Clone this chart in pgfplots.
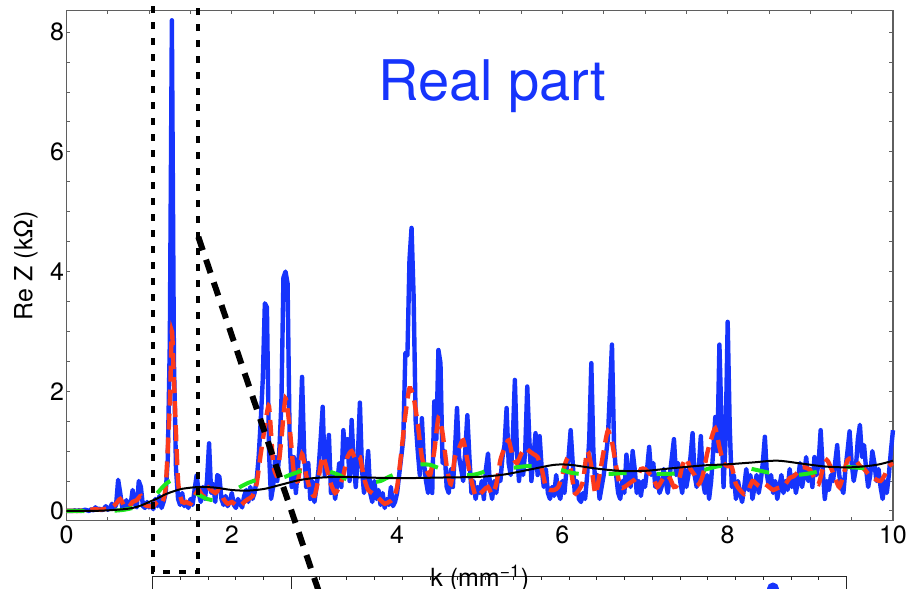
\documentclass[border=0pt]{standalone}
\usepackage{fontspec}
\setmainfont{TeX Gyre Heros}
\usepackage{pgfplots}
\pgfplotsset{compat=1.18}
\usetikzlibrary{calc}
\definecolor{cblue}{RGB}{22,52,252}
\definecolor{cred}{RGB}{252,58,28}
\definecolor{cgreen}{RGB}{30,232,30}
\definecolor{cframe}{RGB}{95,95,95}
\begin{document}
\begin{tikzpicture}
\begin{axis}[
  scale only axis, width=413.25pt, height=255.1pt,
  xmin=0, xmax=10, ymin=-0.162, ymax=8.364,
  clip=false,
  axis line style={cframe, line width=0.6pt},
  every tick/.style={cframe, line width=0.5pt},
  major tick length=2pt, minor tick length=1.8pt,
  tick align=inside,
  xtick={0,2,4,6,8,10}, ytick={0,2,4,6,8},
  minor x tick num=3, minor y tick num=3,
  /pgf/number format/assume math mode=true,
  tick label style={font=\fontsize{12.5}{14}\selectfont},
  xticklabel style={inner sep=1pt, yshift=-1.5pt},
  yticklabel style={inner sep=1pt},
  xlabel={k (mm\textsuperscript{−1})},
  ylabel={Re Z (kΩ)},
  label style={font=\fontsize{12.5}{14}\selectfont},
  xlabel style={at={(axis description cs:0.5,-0.086)}, anchor=north, inner sep=0pt},
  ylabel style={at={(axis description cs:-0.0345,0.5)}, anchor=south, inner sep=0pt},
]
\addplot[cblue, line width=2.2pt, line join=round] table[row sep=\\] {
x y\\
0.000 0.00\\ 0.025 0.00\\ 0.050 0.00\\ 0.075 0.00\\ 0.100 0.01\\ 0.125 0.00\\ 0.150 0.01\\ 0.175 0.00\\
0.200 0.01\\ 0.225 0.02\\ 0.250 0.01\\ 0.275 0.00\\ 0.300 0.03\\ 0.325 0.01\\ 0.350 0.06\\ 0.375 0.02\\
0.400 0.04\\ 0.425 0.01\\ 0.450 0.03\\ 0.475 0.08\\ 0.500 0.02\\ 0.525 0.05\\ 0.550 0.12\\ 0.575 0.04\\
0.600 0.10\\ 0.625 0.52\\ 0.650 0.30\\ 0.675 0.05\\ 0.700 0.08\\ 0.725 0.18\\ 0.750 0.04\\ 0.775 0.10\\
0.800 0.35\\ 0.825 0.12\\ 0.850 0.06\\ 0.875 0.50\\ 0.900 0.40\\ 0.925 0.08\\ 0.950 0.05\\ 0.975 0.15\\
1.000 0.06\\ 1.025 0.10\\ 1.050 0.03\\ 1.075 0.20\\ 1.100 0.08\\ 1.125 0.25\\ 1.150 0.05\\ 1.175 0.15\\
1.200 0.30\\ 1.225 0.85\\ 1.250 2.80\\ 1.275 8.20\\ 1.300 2.50\\ 1.325 0.70\\ 1.350 0.20\\ 1.375 0.10\\
1.400 0.30\\ 1.425 0.08\\ 1.450 0.15\\ 1.475 0.05\\ 1.500 0.20\\ 1.525 0.10\\ 1.550 0.35\\ 1.575 0.60\\
1.600 0.30\\ 1.625 0.15\\ 1.650 0.40\\ 1.675 0.20\\ 1.700 0.50\\ 1.725 1.13\\ 1.750 0.30\\ 1.775 0.45\\
1.800 0.15\\ 1.825 0.60\\ 1.850 0.57\\ 1.875 0.20\\ 1.900 0.10\\ 1.925 0.25\\ 1.950 0.08\\ 1.975 0.15\\
2.000 0.30\\ 2.025 0.10\\ 2.050 0.05\\ 2.075 0.20\\ 2.100 0.12\\ 2.125 0.06\\ 2.150 0.25\\ 2.175 0.35\\
2.200 0.15\\ 2.225 0.40\\ 2.250 0.20\\ 2.275 0.30\\ 2.300 0.50\\ 2.325 0.90\\ 2.350 1.50\\ 2.375 2.20\\
2.400 3.47\\ 2.425 3.40\\ 2.450 1.00\\ 2.475 0.20\\ 2.500 0.40\\ 2.525 0.90\\ 2.550 0.50\\ 2.575 1.00\\
2.600 1.80\\ 2.625 3.90\\ 2.650 4.00\\ 2.675 3.80\\ 2.700 1.20\\ 2.725 0.40\\ 2.750 0.90\\ 2.775 0.30\\
2.800 0.70\\ 2.825 1.20\\ 2.850 2.24\\ 2.875 1.00\\ 2.900 0.40\\ 2.925 0.80\\ 2.950 0.20\\ 2.975 0.50\\
3.000 0.15\\ 3.025 0.40\\ 3.050 0.70\\ 3.075 1.20\\ 3.100 1.74\\ 3.125 0.60\\ 3.150 0.90\\ 3.175 1.27\\
3.200 0.30\\ 3.225 0.60\\ 3.250 0.20\\ 3.275 0.45\\ 3.300 0.80\\ 3.325 0.40\\ 3.350 1.35\\ 3.375 0.90\\
3.400 1.20\\ 3.425 0.50\\ 3.450 1.52\\ 3.475 0.80\\ 3.500 0.40\\ 3.525 0.90\\ 3.550 1.81\\ 3.575 0.70\\
3.600 0.30\\ 3.625 0.60\\ 3.650 1.00\\ 3.675 0.30\\ 3.700 0.15\\ 3.725 0.50\\ 3.750 0.20\\ 3.775 0.35\\
3.800 0.10\\ 3.825 0.30\\ 3.850 0.05\\ 3.875 0.20\\ 3.900 0.10\\ 3.925 0.40\\ 3.950 0.08\\ 3.975 0.15\\
4.000 0.30\\ 4.025 0.60\\ 4.050 0.90\\ 4.075 1.20\\ 4.100 2.64\\ 4.125 2.60\\ 4.150 4.20\\ 4.175 4.73\\
4.200 3.59\\ 4.225 1.50\\ 4.250 1.00\\ 4.275 0.60\\ 4.300 1.55\\ 4.325 0.80\\ 4.350 0.50\\ 4.375 0.30\\
4.400 0.60\\ 4.425 0.30\\ 4.450 1.83\\ 4.475 1.20\\ 4.500 2.69\\ 4.525 2.47\\ 4.550 0.80\\ 4.575 1.00\\
4.600 0.40\\ 4.625 0.30\\ 4.650 0.70\\ 4.675 0.40\\ 4.700 1.00\\ 4.725 1.72\\ 4.750 0.90\\ 4.775 0.70\\
4.800 0.50\\ 4.825 1.00\\ 4.850 1.60\\ 4.875 0.90\\ 4.900 0.30\\ 4.925 0.50\\ 4.950 0.20\\ 4.975 0.40\\
5.000 0.30\\ 5.025 0.50\\ 5.050 0.20\\ 5.075 0.70\\ 5.100 0.96\\ 5.125 0.40\\ 5.150 0.20\\ 5.175 0.50\\
5.200 0.30\\ 5.225 0.60\\ 5.250 0.50\\ 5.275 0.90\\ 5.300 1.10\\ 5.325 1.72\\ 5.350 0.80\\ 5.375 0.60\\
5.400 1.20\\ 5.425 2.19\\ 5.450 1.00\\ 5.475 0.50\\ 5.500 0.90\\ 5.525 0.60\\ 5.550 1.00\\ 5.575 2.08\\
5.600 1.20\\ 5.625 0.50\\ 5.650 0.90\\ 5.675 1.30\\ 5.700 0.60\\ 5.725 1.25\\ 5.750 0.70\\ 5.775 0.40\\
5.800 0.70\\ 5.825 0.30\\ 5.850 0.20\\ 5.875 0.40\\ 5.900 0.25\\ 5.925 0.60\\ 5.950 0.30\\ 5.975 0.20\\
6.000 0.50\\ 6.025 0.30\\ 6.050 0.70\\ 6.075 0.90\\ 6.100 1.35\\ 6.125 0.80\\ 6.150 0.30\\ 6.175 0.50\\
6.200 0.20\\ 6.225 0.15\\ 6.250 0.30\\ 6.275 0.20\\ 6.300 0.60\\ 6.325 1.20\\ 6.350 2.47\\ 6.375 1.00\\
6.400 0.40\\ 6.425 0.60\\ 6.450 0.20\\ 6.475 0.40\\ 6.500 0.60\\ 6.525 0.90\\ 6.550 1.20\\ 6.575 2.00\\
6.600 2.78\\ 6.625 1.10\\ 6.650 0.60\\ 6.675 0.30\\ 6.700 0.20\\ 6.725 0.50\\ 6.750 0.30\\ 6.775 0.94\\
6.800 0.60\\ 6.825 0.40\\ 6.850 1.00\\ 6.875 0.70\\ 6.900 0.30\\ 6.925 0.50\\ 6.950 0.25\\ 6.975 0.50\\
7.000 0.40\\ 7.025 0.70\\ 7.050 1.07\\ 7.075 0.60\\ 7.100 0.80\\ 7.125 0.40\\ 7.150 0.60\\ 7.175 0.30\\
7.200 0.40\\ 7.225 0.70\\ 7.250 0.50\\ 7.275 0.30\\ 7.300 0.60\\ 7.325 0.90\\ 7.350 1.20\\ 7.375 0.60\\
7.400 0.80\\ 7.425 0.50\\ 7.450 0.30\\ 7.475 0.70\\ 7.500 0.40\\ 7.525 0.60\\ 7.550 0.90\\ 7.575 1.30\\
7.600 0.60\\ 7.625 0.40\\ 7.650 0.70\\ 7.675 1.25\\ 7.700 0.50\\ 7.725 0.30\\ 7.750 0.60\\ 7.775 0.20\\
7.800 0.50\\ 7.825 1.00\\ 7.850 1.57\\ 7.875 1.00\\ 7.900 2.78\\ 7.925 1.50\\ 7.950 0.40\\ 7.975 1.20\\
8.000 3.16\\ 8.025 1.40\\ 8.050 0.40\\ 8.075 0.60\\ 8.100 0.20\\ 8.125 0.50\\ 8.150 0.30\\ 8.175 0.15\\
8.200 0.40\\ 8.225 0.70\\ 8.250 0.35\\ 8.275 0.60\\ 8.300 0.20\\ 8.325 0.40\\ 8.350 0.60\\ 8.375 0.30\\
8.400 0.50\\ 8.425 0.80\\ 8.450 1.24\\ 8.475 0.60\\ 8.500 0.40\\ 8.525 0.60\\ 8.550 0.30\\ 8.575 0.50\\
8.600 0.20\\ 8.625 0.40\\ 8.650 0.60\\ 8.675 0.30\\ 8.700 0.50\\ 8.725 0.35\\ 8.750 0.70\\ 8.775 0.40\\
8.800 0.60\\ 8.825 0.30\\ 8.850 0.50\\ 8.875 0.80\\ 8.900 0.40\\ 8.925 0.60\\ 8.950 0.90\\ 8.975 0.50\\
9.000 0.70\\ 9.025 0.40\\ 9.050 0.90\\ 9.075 0.60\\ 9.100 0.80\\ 9.125 1.35\\ 9.150 0.70\\ 9.175 0.20\\
9.200 0.50\\ 9.225 0.35\\ 9.250 0.60\\ 9.275 0.50\\ 9.300 0.80\\ 9.325 1.10\\ 9.350 0.60\\ 9.375 0.40\\
9.400 0.30\\ 9.425 0.70\\ 9.450 1.00\\ 9.475 1.33\\ 9.500 0.80\\ 9.525 0.50\\ 9.550 0.70\\ 9.575 1.20\\
9.600 1.44\\ 9.625 0.90\\ 9.650 1.10\\ 9.675 0.70\\ 9.700 0.40\\ 9.725 0.60\\ 9.750 1.00\\ 9.775 0.80\\
9.800 0.50\\ 9.825 0.70\\ 9.850 0.40\\ 9.875 0.20\\ 9.900 0.50\\ 9.925 0.30\\ 9.950 0.60\\ 9.975 1.00\\
10.000 1.35\\
};
\addplot[cred, line width=2.2pt, dash pattern=on 8pt off 4pt, smooth, tension=0.4] table[row sep=\\] {
x y\\
0.00 0\\ 0.05 0\\ 0.10 0\\ 0.15 0\\ 0.20 0.01\\ 0.25 0.01\\ 0.30 0.02\\ 0.35 0.03\\ 0.40 0.02\\ 0.45 0.03\\
0.50 0.04\\ 0.55 0.06\\ 0.60 0.12\\ 0.65 0.20\\ 0.70 0.08\\ 0.75 0.06\\ 0.80 0.15\\ 0.85 0.18\\ 0.90 0.25\\ 0.95 0.10\\
1.00 0.08\\ 1.05 0.08\\ 1.10 0.15\\ 1.15 0.12\\ 1.20 0.40\\ 1.25 1.80\\ 1.275 3.00\\ 1.30 2.20\\ 1.35 0.50\\ 1.40 0.15\\ 1.45 0.15\\
1.50 0.12\\ 1.55 0.25\\ 1.60 0.35\\ 1.65 0.25\\ 1.70 0.40\\ 1.75 0.35\\ 1.80 0.30\\ 1.85 0.35\\ 1.90 0.20\\ 1.95 0.12\\
2.00 0.15\\ 2.05 0.10\\ 2.10 0.08\\ 2.15 0.15\\ 2.20 0.20\\ 2.25 0.25\\ 2.30 0.45\\ 2.35 0.95\\ 2.40 1.40\\ 2.45 1.75\\
2.50 0.80\\ 2.55 0.60\\ 2.60 1.20\\ 2.65 1.88\\ 2.70 1.40\\ 2.75 0.65\\ 2.80 0.50\\ 2.85 0.95\\ 2.90 0.60\\ 2.95 0.35\\
3.00 0.25\\ 3.05 0.55\\ 3.10 0.92\\ 3.15 0.70\\ 3.20 0.45\\ 3.25 0.30\\ 3.30 0.40\\ 3.35 0.60\\ 3.40 0.90\\ 3.45 1.00\\
3.50 0.85\\ 3.55 0.90\\ 3.60 0.55\\ 3.65 0.35\\ 3.70 0.30\\ 3.75 0.25\\ 3.80 0.18\\ 3.85 0.12\\ 3.90 0.15\\ 3.95 0.20\\
4.00 0.40\\ 4.05 0.96\\ 4.10 1.60\\ 4.15 2.05\\ 4.20 1.90\\ 4.25 1.45\\ 4.30 0.90\\ 4.35 0.70\\ 4.40 0.60\\ 4.45 1.00\\
4.50 1.55\\ 4.55 1.30\\ 4.60 0.75\\ 4.65 0.45\\ 4.70 0.90\\ 4.75 1.05\\ 4.80 1.18\\ 4.85 0.85\\ 4.90 0.50\\ 4.95 0.25\\
5.00 0.28\\ 5.05 0.35\\ 5.10 0.40\\ 5.15 0.28\\ 5.20 0.45\\ 5.25 0.85\\ 5.30 1.05\\ 5.35 1.18\\ 5.40 0.90\\ 5.45 0.80\\
5.50 0.95\\ 5.55 1.05\\ 5.60 1.00\\ 5.65 0.95\\ 5.70 0.90\\ 5.75 0.70\\ 5.80 0.40\\ 5.85 0.35\\ 5.90 0.35\\ 5.95 0.40\\
6.00 0.60\\ 6.05 0.85\\ 6.10 0.70\\ 6.15 0.30\\ 6.20 0.35\\ 6.25 0.50\\ 6.30 1.00\\ 6.35 0.75\\ 6.40 0.28\\ 6.45 0.60\\
6.50 1.00\\ 6.55 1.34\\ 6.60 1.15\\ 6.65 0.75\\ 6.70 0.40\\ 6.75 0.40\\ 6.80 0.45\\ 6.85 0.50\\ 6.90 0.55\\ 6.95 0.70\\
7.00 0.70\\ 7.05 0.63\\ 7.10 0.55\\ 7.15 0.40\\ 7.20 0.50\\ 7.25 0.60\\ 7.30 0.55\\ 7.35 0.40\\ 7.40 0.45\\ 7.45 0.75\\
7.50 0.88\\ 7.55 0.70\\ 7.60 0.60\\ 7.65 0.45\\ 7.70 0.60\\ 7.75 0.95\\ 7.80 1.20\\ 7.85 1.38\\ 7.90 1.07\\ 7.95 0.80\\
8.00 0.75\\ 8.05 0.73\\ 8.10 0.45\\ 8.15 0.35\\ 8.20 0.28\\ 8.25 0.35\\ 8.30 0.50\\ 8.35 0.45\\ 8.40 0.40\\ 8.45 0.45\\
8.50 0.40\\ 8.55 0.35\\ 8.60 0.38\\ 8.65 0.40\\ 8.70 0.45\\ 8.75 0.55\\ 8.80 0.58\\ 8.85 0.65\\ 8.90 0.73\\ 8.95 0.72\\
9.00 0.68\\ 9.05 0.55\\ 9.10 0.45\\ 9.15 0.70\\ 9.20 0.85\\ 9.25 0.72\\ 9.30 0.55\\ 9.35 0.40\\ 9.40 0.60\\ 9.45 0.85\\
9.50 0.88\\ 9.55 0.85\\ 9.60 0.75\\ 9.65 0.70\\ 9.70 0.62\\ 9.75 0.57\\ 9.80 0.52\\ 9.85 0.50\\ 9.90 0.60\\ 9.95 0.75\\
10.00 0.80\\
};
\addplot[cgreen, line width=2pt, dash pattern=on 9pt off 15pt, smooth] table[row sep=\\] {
x y\\
0.0 0\\ 0.5 0\\ 0.7 0.02\\ 0.8 0.05\\ 0.9 0.08\\ 1.0 0.15\\ 1.1 0.30\\ 1.2 0.45\\ 1.3 0.52\\ 1.4 0.45\\
1.5 0.35\\ 1.6 0.27\\ 1.7 0.20\\ 1.8 0.18\\ 1.9 0.22\\ 2.0 0.32\\ 2.1 0.40\\ 2.2 0.47\\ 2.3 0.52\\ 2.4 0.58\\
2.5 0.55\\ 2.6 0.55\\ 2.7 0.60\\ 2.8 0.65\\ 2.9 0.70\\ 3.0 0.72\\ 3.1 0.70\\ 3.2 0.65\\ 3.3 0.60\\ 3.4 0.52\\
3.5 0.50\\ 3.6 0.48\\ 3.7 0.48\\ 3.8 0.50\\ 3.9 0.57\\ 4.0 0.63\\ 4.1 0.70\\ 4.2 0.76\\ 4.3 0.78\\ 4.4 0.77\\
4.5 0.72\\ 4.6 0.68\\ 4.7 0.64\\ 4.8 0.60\\ 4.9 0.60\\ 5.0 0.63\\ 5.1 0.68\\ 5.2 0.72\\ 5.3 0.72\\ 5.4 0.72\\
5.5 0.74\\ 5.6 0.75\\ 5.7 0.75\\ 5.8 0.75\\ 5.9 0.72\\ 6.0 0.68\\ 6.1 0.64\\ 6.2 0.62\\ 6.3 0.62\\ 6.4 0.62\\
6.5 0.62\\ 6.6 0.62\\ 6.7 0.63\\ 6.8 0.63\\ 6.9 0.63\\ 7.0 0.63\\ 7.1 0.62\\ 7.2 0.62\\ 7.3 0.62\\ 7.4 0.63\\
7.5 0.65\\ 7.6 0.66\\ 7.7 0.68\\ 7.8 0.72\\ 7.9 0.75\\ 8.0 0.76\\ 8.1 0.75\\ 8.2 0.73\\ 8.3 0.70\\ 8.4 0.67\\
8.5 0.64\\ 8.6 0.63\\ 8.7 0.61\\ 8.8 0.60\\ 8.9 0.61\\ 9.0 0.63\\ 9.1 0.66\\ 9.2 0.69\\ 9.3 0.72\\ 9.4 0.73\\
9.5 0.73\\ 9.6 0.72\\ 9.7 0.71\\ 9.8 0.71\\ 9.9 0.70\\ 10.0 0.70\\
};
\addplot[black, line width=1pt, smooth] table[row sep=\\] {
x y\\
0.0 0\\ 0.3 0\\ 0.5 0.01\\ 0.7 0.03\\ 0.8 0.05\\ 0.9 0.09\\ 1.0 0.15\\ 1.1 0.21\\ 1.2 0.28\\ 1.3 0.33\\ 1.4 0.37\\
1.6 0.40\\ 1.8 0.39\\ 2.0 0.35\\ 2.2 0.34\\ 2.4 0.37\\ 2.6 0.44\\ 2.8 0.51\\ 3.0 0.55\\ 3.3 0.57\\ 3.6 0.56\\
3.9 0.55\\ 4.2 0.55\\ 4.6 0.56\\ 5.0 0.57\\ 5.3 0.61\\ 5.6 0.69\\ 5.9 0.77\\ 6.1 0.77\\ 6.4 0.71\\ 6.7 0.67\\
7.0 0.67\\ 7.3 0.71\\ 7.7 0.76\\ 8.0 0.78\\ 8.3 0.81\\ 8.6 0.84\\ 8.9 0.79\\ 9.2 0.74\\ 9.5 0.73\\ 9.8 0.77\\ 10.0 0.84\\
};
\addplot[only marks, mark=*, mark size=2.75pt, color=cblue] coordinates {(8.548,-1.295)};
\node[anchor=base, text=cblue, font=\fontsize{28}{32}\selectfont] at (axis cs:5.154,6.857) {Real part};
\draw[black, line width=2pt, dash pattern=on 3.5pt off 4.5pt] (axis cs:1.043,8.7) -- (axis cs:1.043,-1.019) -- (axis cs:1.595,-1.019) -- (axis cs:1.595,8.7);
\draw[black, line width=3pt, dash pattern=on 7pt off 5pt] (axis cs:1.595,4.579) -- (axis cs:3.067,-1.404);
\draw[black!85, line width=0.6pt] (axis cs:1.0405,-1.40) -- (axis cs:1.0405,-1.098) -- (axis cs:9.440,-1.098) -- (axis cs:9.440,-1.40);
\coordinate (insL) at (axis cs:1.0405,-1.098);
\coordinate (insR) at (axis cs:9.440,-1.098);
\coordinate (bbSW) at (axis cs:-0.8046,-1.3035);
\coordinate (bbNE) at (axis cs:10.182,8.539);
\end{axis}
\foreach \i in {1,...,24} {
  \draw[black!85, line width=0.5pt] ($(insL)!\i/25!(insR)$) -- ++(0,-1.6pt);
}
\draw[black!85, line width=0.6pt] ($(insL)!0.2!(insR)$) -- ++(0,-10pt);
\pgfresetboundingbox
\useasboundingbox (bbSW) rectangle (bbNE);
\end{tikzpicture}
\end{document}
